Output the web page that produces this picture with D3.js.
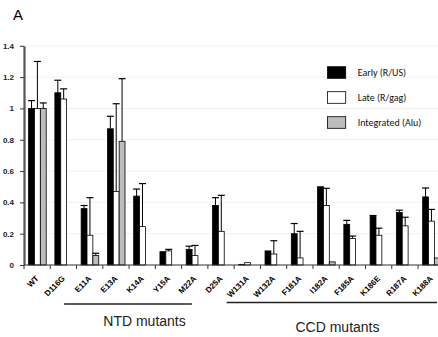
<!DOCTYPE html>
<html>
<head>
<meta charset="utf-8">
<script src="https://cdn.jsdelivr.net/npm/d3@7"></script>
<style>
	body { margin: 0; background: #fff; }
	svg { display: block; }
</style>
</head>
<body>
<svg id="chart"></svg>
<script>
var categories = ["WT", "D116G", "E11A", "E13A", "K14A", "Y15A", "M22A", "D25A", "W131A", "W132A", "F181A", "I182A", "F185A", "K186E", "R187A", "K188A"];
var seriesNames = ["Early (R/US)", "Late (R/gag)", "Integrated (Alu)"];
var early = [1.00, 1.10, 0.36, 0.87, 0.44, 0.085, 0.10, 0.38, 0.004, 0.09, 0.20, 0.50, 0.26, 0.31, 0.335, 0.435];
var earlyErr = [0.05, 0.08, 0.02, 0.08, 0.045, 0, 0.02, 0.05, 0, 0, 0.065, 0, 0.025, 0.006, 0.015, 0.057];
var late = [1.00, 1.06, 0.19, 0.47, 0.245, 0.09, 0.06, 0.215, 0.015, 0.07, 0.045, 0.38, 0.17, 0.19, 0.25, 0.28];
var lateErr = [0.30, 0.065, 0.24, 0.56, 0.275, 0.01, 0.065, 0.23, 0, 0.085, 0.17, 0.11, 0.015, 0.045, 0.055, 0.075];
var integrated = [1.00, 0, 0.06, 0.79, 0, 0, 0, 0, 0, 0, 0, 0.02, 0, 0, 0, 0.045];
var integratedErr = [0.035, 0, 0.015, 0.40, 0, 0, 0, 0, 0, 0, 0, 0, 0, 0, 0, 0];
var yTicks = [0, 0.2, 0.4, 0.6, 0.8, 1, 1.2, 1.4];
var yTickLabels = ["0", "0.2", "0.4", "0.6", "0.8", "1", "1.2", "1.4"];
var groups = [
	{ name: "NTD mutants", from: "E11A", to: "D25A" },
	{ name: "CCD mutants", from: "W131A", to: "K188A" }
];

var width = 438, height = 337;
var fills = ["#000000", "#ffffff", "#bdbdbd"];
var values = [early, late, integrated];
var errors = [earlyErr, lateErr, integratedErr];

var svg = d3.select("#chart").attr("width", width).attr("height", height);

var x = d3.scaleBand().domain(categories).range([24, 24 + 26.27 * categories.length]);
var xs = d3.scaleBand().domain(seriesNames).range([4.6, 22.2]);
var y = d3.scaleLinear().domain([0, 1.4]).range([265, 45.8]);

// panel letter
svg.append("text").attr("x", 13).attr("y", 19.5).text("A")
	.style("font-family", "Liberation Sans, Arial, sans-serif").style("font-size", "15px");

// faint gridlines
svg.append("g").selectAll("line").data(yTicks.slice(1)).enter().append("line")
	.attr("x1", 24).attr("x2", width).attr("y1", function(d) { return y(d); }).attr("y2", function(d) { return y(d); })
	.attr("stroke", "#f1f1f1").attr("stroke-width", 1);

// bars
var bars = svg.append("g");
seriesNames.forEach(function(s, si) {
	var g = bars.append("g");
	g.selectAll("rect").data(categories).enter().append("rect")
		.attr("x", function(c) { return x(c) + xs(s); })
		.attr("width", xs.bandwidth())
		.attr("y", function(c, i) { return y(values[si][i]); })
		.attr("height", function(c, i) { return y(0) - y(values[si][i]); })
		.attr("fill", fills[si]).attr("stroke", "#000").attr("stroke-width", 0.8);
	// error bars (upper only)
	categories.forEach(function(c, i) {
		var e = errors[si][i];
		if (!e) return;
		var cx = x(c) + xs(s) + xs.bandwidth() / 2;
		g.append("line").attr("x1", cx).attr("x2", cx)
			.attr("y1", y(values[si][i])).attr("y2", y(values[si][i] + e))
			.attr("stroke", "#000").attr("stroke-width", 1);
		g.append("line").attr("x1", cx - 3.5).attr("x2", cx + 3.5)
			.attr("y1", y(values[si][i] + e)).attr("y2", y(values[si][i] + e))
			.attr("stroke", "#000").attr("stroke-width", 1.2);
	});
});

// y axis
var yAxis = d3.axisLeft(y).tickValues(yTicks).tickSize(4).tickSizeOuter(0).tickPadding(6)
	.tickFormat(function(d, i) { return yTickLabels[i]; });
var ya = svg.append("g").attr("transform", "translate(24,0)").call(yAxis);
ya.select(".domain").attr("stroke", "#555").attr("stroke-width", 2.2);
ya.selectAll(".tick line").attr("stroke", "#333");
ya.selectAll("text").style("font-family", "Liberation Sans, Arial, sans-serif")
	.style("font-size", "8px").style("font-weight", "bold").attr("fill", "#222");

// x axis
var xa = svg.append("g");
xa.append("line").attr("x1", 24).attr("x2", width).attr("y1", y(0)).attr("y2", y(0))
	.attr("stroke", "#333").attr("stroke-width", 1.2);
xa.selectAll(".xt").data(categories).enter().append("line").attr("class", "xt")
	.attr("x1", function(c) { return x(c); }).attr("x2", function(c) { return x(c); })
	.attr("y1", y(0)).attr("y2", y(0) + 4).attr("stroke", "#333");
xa.selectAll("text").data(categories).enter().append("text")
	.attr("transform", function(c) { return "translate(" + (x(c) + x.bandwidth() / 2 - 2) + "," + (y(0) + 10) + ") rotate(-45)"; })
	.attr("text-anchor", "end").attr("dy", "0.72em")
	.text(function(c) { return c; })
	.style("font-family", "Liberation Sans, Arial, sans-serif").style("font-size", "8px").style("font-weight", "bold");

// group brackets
var gy = [304, 302.5], ty = [326, 331.5];
groups.forEach(function(gr, i) {
	var x1 = i === 0 ? x(gr.from) - 12.5 : x(gr.from) - 7.5;
	var x2 = i === 0 ? x(gr.to) - 16 : x(gr.to) + 19;
	svg.append("line").attr("x1", x1).attr("x2", x2).attr("y1", gy[i]).attr("y2", gy[i])
		.attr("stroke", "#222").attr("stroke-width", 1.6);
	svg.append("text").attr("x", i === 0 ? 144.5 : 337.5).attr("y", ty[i]).attr("text-anchor", "middle")
		.text(gr.name).style("font-family", "Liberation Sans, Arial, sans-serif").style("font-size", "14px").attr("fill", "#222");
});

// legend
var legend = svg.append("g").attr("transform", "translate(327.5,66.7)");
seriesNames.forEach(function(s, i) {
	legend.append("rect").attr("x", 0).attr("y", i * 25).attr("width", 18.2).attr("height", 11.6)
		.attr("fill", fills[i]).attr("stroke", "#000").attr("stroke-width", 0.8);
	legend.append("text").attr("x", 30.2).attr("y", i * 25 + 9).text(s)
		.style("font-family", "Carlito, Lato, sans-serif").style("font-size", "10px").attr("fill", "#111");
});
</script>
</body>
</html>
